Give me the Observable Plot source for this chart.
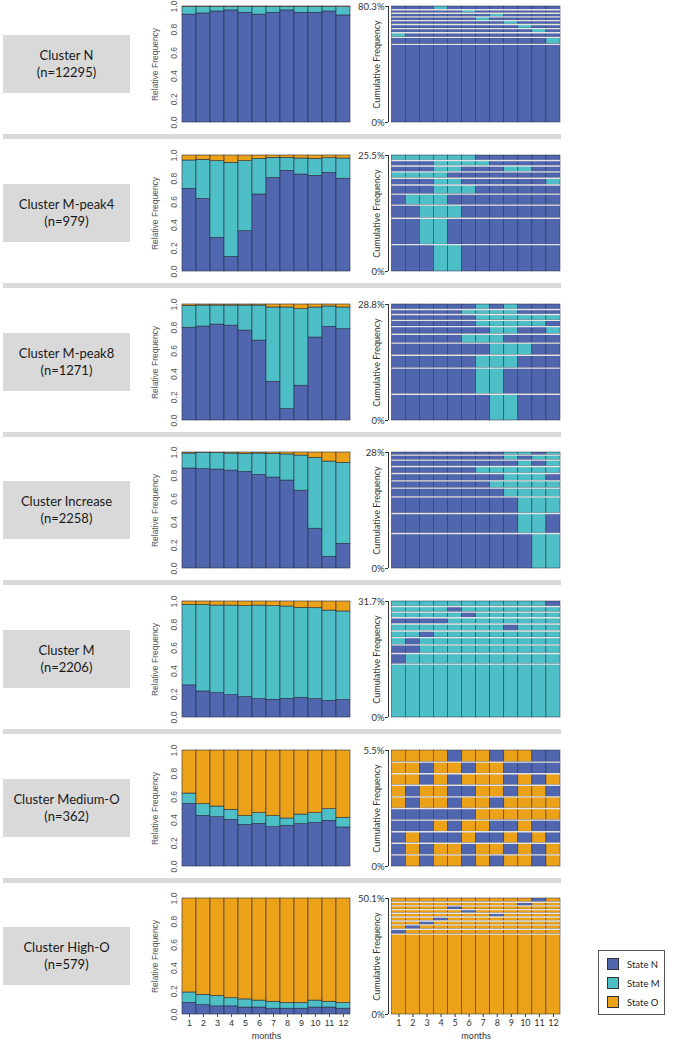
<!DOCTYPE html>
<html><head><meta charset="utf-8">
<script src="https://cdn.jsdelivr.net/npm/d3@7"></script>
<script src="https://cdn.jsdelivr.net/npm/@observablehq/plot@0.6"></script>
<style>
body{margin:0;background:#fff;}
#root{position:relative;width:674px;height:1042px;overflow:hidden;font-family:Lato,"Open Sans",sans-serif;}
.lab{position:absolute;left:3px;width:127px;height:58px;background:#d9d9d9;display:flex;flex-direction:column;justify-content:center;align-items:center;font-size:13px;line-height:17px;color:#1a1a1a;}
.sep{position:absolute;left:3px;width:558px;height:5px;background:#d9d9d9;}
#root svg{position:absolute;}
.leg{position:absolute;left:598px;top:950px;width:67px;height:65px;border:1px solid #555;box-sizing:border-box;font-size:9.5px;color:#222;}
.leg .it{position:absolute;left:8px;display:flex;align-items:center;}
.leg .sw{width:12px;height:12px;border:1px solid #333;box-sizing:border-box;margin-right:8px;}
</style></head>
<body><div id="root"></div>
<script>
// ---------- data ----------
const months = [1,2,3,4,5,6,7,8,9,10,11,12];
const stateKeys = ["N","M","O"];
const stateLabels = ["State N","State M","State O"];
const stateColors = ["#5067AF","#4EBFC6","#EBA219"];
const clusterNames = ["Cluster N","Cluster M-peak4","Cluster M-peak8","Cluster Increase","Cluster M","Cluster Medium-O","Cluster High-O"];
const clusterSizes = ["(n=12295)","(n=979)","(n=1271)","(n=2258)","(n=2206)","(n=362)","(n=579)"];
const relTicks = [0,0.2,0.4,0.6,0.8,1.0];

// relative frequency per month (state N, M, O) for each cluster
const relN = [
  [0.930,0.940,0.957,0.966,0.946,0.930,0.946,0.966,0.946,0.946,0.957,0.923],
  [0.713,0.626,0.290,0.126,0.348,0.664,0.807,0.868,0.836,0.825,0.850,0.800],
  [0.800,0.810,0.827,0.818,0.775,0.689,0.334,0.098,0.300,0.715,0.807,0.787],
  [0.862,0.856,0.853,0.844,0.833,0.807,0.784,0.758,0.671,0.343,0.101,0.213],
  [0.277,0.225,0.210,0.193,0.176,0.159,0.153,0.161,0.170,0.159,0.144,0.150],
  [0.540,0.437,0.425,0.402,0.359,0.368,0.339,0.351,0.365,0.376,0.394,0.336],
  [0.100,0.080,0.070,0.070,0.060,0.060,0.050,0.050,0.050,0.060,0.060,0.050]
];
const relM = [
  [0.066,0.056,0.039,0.030,0.050,0.066,0.050,0.030,0.050,0.050,0.039,0.071],
  [0.244,0.337,0.661,0.811,0.603,0.307,0.173,0.112,0.138,0.146,0.127,0.174],
  [0.188,0.181,0.164,0.173,0.216,0.302,0.640,0.876,0.660,0.259,0.176,0.187],
  [0.129,0.141,0.144,0.147,0.155,0.184,0.204,0.225,0.303,0.611,0.821,0.698],
  [0.694,0.746,0.755,0.772,0.784,0.806,0.807,0.796,0.775,0.783,0.778,0.764],
  [0.089,0.100,0.092,0.087,0.075,0.092,0.095,0.063,0.083,0.084,0.100,0.084],
  [0.090,0.090,0.090,0.070,0.070,0.060,0.060,0.050,0.050,0.060,0.050,0.050]
];
const relO = [
  [0.004,0.004,0.004,0.004,0.004,0.004,0.004,0.004,0.004,0.004,0.004,0.006],
  [0.043,0.037,0.049,0.063,0.049,0.029,0.020,0.020,0.026,0.029,0.023,0.026],
  [0.012,0.009,0.009,0.009,0.009,0.009,0.026,0.026,0.040,0.026,0.017,0.026],
  [0.009,0.003,0.003,0.009,0.012,0.009,0.012,0.017,0.026,0.046,0.078,0.089],
  [0.029,0.029,0.035,0.035,0.040,0.035,0.040,0.043,0.055,0.058,0.078,0.086],
  [0.371,0.463,0.483,0.511,0.566,0.540,0.566,0.586,0.552,0.540,0.506,0.580],
  [0.810,0.830,0.840,0.860,0.870,0.880,0.890,0.900,0.900,0.880,0.890,0.900]
];

// 10 most frequent sequences per cluster (bottom = most frequent) and their frequency (%)
const seqTopLabels = ["80.3%","25.5%","28.8%","28%","31.7%","5.5%","50.1%"];
const seqPatterns = [
  ["NNNNNNNNNNNN","NNNNNNNNNNNM","MNNNNNNNNNNN","NNNNNNNNNNMN","NNNNNNNNNMNN","NNNNNNNNMNNN","NNNNNNMNNNNN","NNNNNNNMNNNN","NNNNNMNNNNNN","NNNMNNNNNNNN"],
  ["NNNMMNNNNNNN","NNMMNNNNNNNN","NNMMMNNNNNNN","NMMMNNNNNNNN","NNNMMMNNNNNN","NNNMMNNNNNNM","MMMMNNNNNNNN","NNNMMNNNMMNN","NNNMMMMNNNNN","MMMMMMNNNNNN"],
  ["NNNNNNNMMNNN","NNNNNNMMNNNN","NNNNNNMMMNNN","NNNNNNNMMMNN","NNNNNMMMNNNN","NNNNNNNMMNNM","NNNNNNMMMMMN","NNNNNNMMMMMM","NNNNNMMMMNNN","NNNNNNMNMNNN"],
  ["NNNNNNNNNNMM","NNNNNNNNNMMN","NNNNNNNNNMMM","NNNNNNNNMMMM","NNNNNNNMMMMM","NNNNNNNNMMMN","NNNNNNMMMMMM","NNNNNNNNNMNM","NNNNNNNNMNMM","NNNNNNNNMMNM"],
  ["MMMMMMMMMMMM","NMMMMMMMMMMM","NNMMMMMMMMMM","MNMMMMMMMMMM","MMNMMMMMMMMM","MMMMMMMMNMMM","NNNNMMMMMMMM","MMMMMNMMMMMM","MMMMNMMMMMMM","MMMMMMMMMMMN"],
  ["NONOONONOONO","NONOONOONONO","NONNNONNONON","NNNONOONNONN","NNNNNNOOOOOO","ONOONOONOOOO","ONOONNOONOON","OONONOOONONO","OONOONOONNNN","OOOONOONOONN"],
  ["OOOOOOOOOOOO","NOOOOOOOOOOO","ONOOOOOOOOOO","OONOOOOOOOOO","OOONOOOOOOOO","OOOOOOONOOOO","OOOOONOOOOOO","OOOONOOOOOOO","OOOOOOOOONOO","OOOOOOOOOONO"]
];
const seqFreqs = [
  [54.1,4.8,3.2,2.9,2.8,2.7,2.6,2.5,2.4,2.3],
  [5.9,5.8,2.9,2.4,2.0,1.5,1.4,1.3,1.2,1.1],
  [6.5,6.5,3.2,3.0,2.2,1.9,1.55,1.45,1.25,1.25],
  [8.45,4.83,4.02,2.09,1.77,1.77,1.69,1.53,1.21,0.64],
  [14.58,2.90,2.36,1.99,1.81,1.90,1.72,1.54,1.54,1.36],
  [0.55,0.55,0.55,0.55,0.55,0.55,0.55,0.55,0.55,0.55],
  [34.7,2.1,1.9,1.7,1.7,1.6,1.6,1.6,1.6,1.6]
];

// ---------- layout ----------
const rowTops = [6,155,304,452,601,750,898];
const PH = 116;
const root = document.getElementById("root");
const colorOf = Object.fromEntries(stateKeys.map((k,i)=>[k,stateColors[i]]));
const axisFont = "'Liberation Sans', Arial, sans-serif";
const seqFont = "Lato, 'Open Sans', sans-serif";

function place(el, left, top){ el.style.left = left+"px"; el.style.top = top+"px"; root.appendChild(el); }

function barChart(ci, last){
  const data = [];
  months.forEach((m,i)=>{
    data.push({month:m, state:"N", v:relN[ci][i]});
    data.push({month:m, state:"M", v:relM[ci][i]});
    data.push({month:m, state:"O", v:relO[ci][i]});
  });
  const mb = last ? 32 : 4;
  const svg = Plot.plot({
    width: 215, height: 4 + PH + mb,
    marginLeft: 41, marginRight: 4, marginTop: 4, marginBottom: mb,
    x: {type:"band", domain: months, padding: 0, axis: null},
    y: {domain:[0,1], axis: null},
    color: {domain: stateKeys, range: stateColors},
    style: {fontFamily: axisFont, fontSize: "8.5px", color: "#555", background: "transparent", overflow: "visible"},
    marks: [
      Plot.barY(data, {x:"month", y:"v", fill:"state", stroke:"#2a2d40", strokeWidth:0.6}),
      Plot.axisY({ticks: relTicks, tickFormat: d3.format(".1f"), tickRotate: -90, tickSize: 0, tickPadding: 5, label: null, fill:"#555"}),
      Plot.text(["Relative Frequency"], {frameAnchor:"left", textAnchor:"middle", dx:-26, rotate:-90, fontSize: 8.5, fill:"#555"}),
      last ? Plot.axisX({tickSize: 3, tickPadding: 2, label: null, fontSize: 9, fill:"#333"}) : null,
      last ? Plot.text(["months"], {frameAnchor:"bottom", dy: 24, fontSize: 9, fill:"#333"}) : null
    ]
  });
  place(svg, 140, rowTops[ci]-4);
}

function seqChart(ci, last){
  const pats = seqPatterns[ci], fr = seqFreqs[ci];
  const cells = [], bounds = [];
  let cum = 0;
  pats.forEach((s,r)=>{
    const y1 = cum, y2 = cum + fr[r];
    months.forEach((m,k)=> cells.push({x1:m-1, x2:m, y1, y2, state:s[k]}));
    cum = y2; bounds.push(y2);
  });
  const total = cum;
  const mb = last ? 32 : 4;
  const x0 = -0.24;
  const svg = Plot.plot({
    width: 214, height: 4 + PH + mb,
    marginLeft: 38, marginRight: 4, marginTop: 4, marginBottom: mb,
    x: {domain:[x0,12], axis: null},
    y: {domain:[0,total], axis: null},
    style: {fontFamily: seqFont, fontSize: "9.5px", color: "#333", background: "transparent", overflow: "visible"},
    marks: [
      Plot.rect(cells, {x1:"x1", x2:"x2", y1:"y1", y2:"y2", fill: d=>colorOf[d.state], stroke:"#2a2d40", strokeWidth:0.5}),
      Plot.ruleY(bounds.slice(0,-1), {x1:0, x2:12, stroke:"#e4e4e4", strokeWidth:1.4}),
      Plot.ruleX([x0], {y1:0, y2:total, stroke:"#333", strokeWidth:1}),
      Plot.axisY({ticks:[0,total], tickSize:3, tickPadding:1, tickFormat:(d)=> d===0 ? "0%" : seqTopLabels[ci], label:null, fill:"#333"}),
      Plot.text(["Cumulative Frequency"], {frameAnchor:"left", textAnchor:"middle", dx:-11, rotate:-90, fontSize: 9, fill:"#333"}),
      last ? Plot.axisX({ticks: months.map(m=>m-0.5), tickFormat: d=>String(Math.round(d+0.5)), tickSize: 3, tickPadding: 2, label: null, fontSize: 9, fill:"#333"}) : null,
      last ? Plot.text(["months"], {x: 6, frameAnchor:"bottom", dy: 24, fontSize: 9, fill:"#333"}) : null
    ]
  });
  place(svg, 350, rowTops[ci]-4);
}

clusterNames.forEach((name, ci)=>{
  const lab = document.createElement("div");
  lab.className = "lab";
  lab.innerHTML = `<div>${name}</div><div>${clusterSizes[ci]}</div>`;
  place(lab, 3, rowTops[ci]+29);
  if (ci < clusterNames.length-1){
    const sep = document.createElement("div");
    sep.className = "sep";
    place(sep, 3, rowTops[ci]+128);
  }
  const last = ci === clusterNames.length-1;
  barChart(ci, last);
  seqChart(ci, last);
});

// legend
const leg = document.createElement("div");
leg.className = "leg";
stateLabels.forEach((t,i)=>{
  const it = document.createElement("div");
  it.className = "it";
  it.style.top = (7 + i*19) + "px";
  it.innerHTML = `<span class="sw" style="background:${stateColors[i]}"></span><span>${t}</span>`;
  leg.appendChild(it);
});
place(leg, 598, 950);
</script>
</body></html>
